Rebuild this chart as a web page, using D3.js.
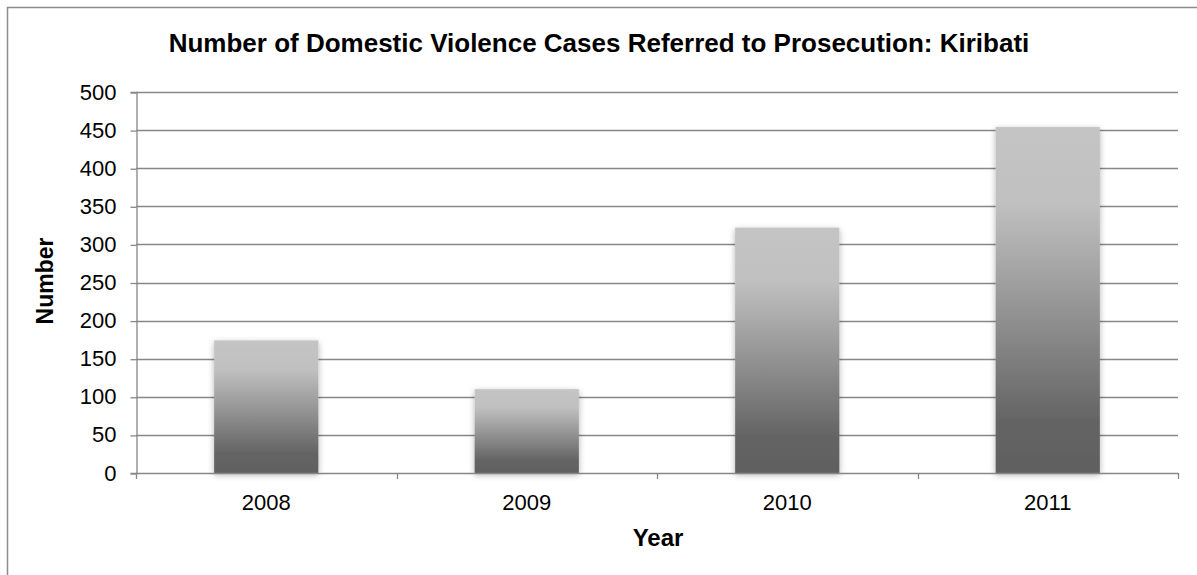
<!DOCTYPE html>
<html>
<head>
<meta charset="utf-8">
<script src="https://cdn.jsdelivr.net/npm/d3@7"></script>
<style>
  html, body { margin: 0; padding: 0; background: #fff; }
  svg { display: block; font-family: "Liberation Sans", Arial, sans-serif; }
</style>
</head>
<body>
<svg id="chart" width="1197" height="575"></svg>
<script>
// Domestic violence cases referred to prosecution, Kiribati
const years = ["2008", "2009", "2010", "2011"];
const cases = [174, 110, 322, 454];
const yTicks = [0, 50, 100, 150, 200, 250, 300, 350, 400, 450, 500];

const titleText = "Number of Domestic Violence Cases Referred to Prosecution: Kiribati";
const xTitle = "Year";
const yTitle = "Number";

const W = 1197, H = 575;
const plot = { left: 136, top: 92, right: 1178, bottom: 473 };

const svg = d3.select("#chart");
const defs = svg.append("defs");

// vertical grey gradient used for each bar
const grad = defs.append("linearGradient")
  .attr("id", "barGrad")
  .attr("x1", 0).attr("y1", 0).attr("x2", 0).attr("y2", 1);
[
  [0, "#c4c4c4"], [0.22, "#c0c0c0"], [0.5, "#989898"],
  [0.85, "#646464"], [1, "#606060"]
].forEach(([o, c]) => grad.append("stop").attr("offset", o).attr("stop-color", c));

const shadow = defs.append("filter")
  .attr("id", "barShadow")
  .attr("x", "-20%").attr("y", "-10%").attr("width", "140%").attr("height", "130%");
shadow.append("feDropShadow")
  .attr("dx", 0).attr("dy", 2).attr("stdDeviation", 3)
  .attr("flood-color", "#000").attr("flood-opacity", 0.3);

// outer chart frame
svg.append("rect")
  .attr("x", 7.5).attr("y", 7.5)
  .attr("width", W + 20).attr("height", H + 20)
  .attr("fill", "none").attr("stroke", "#8c8c8c").attr("stroke-width", 1.5);

const x = d3.scaleBand()
  .domain(years)
  .range([plot.left, plot.right])
  .paddingInner(0.6)
  .paddingOuter(0.3);

const y = d3.scaleLinear()
  .domain([0, 500])
  .range([plot.bottom, plot.top]);

// horizontal gridlines
svg.append("g")
  .selectAll("line")
  .data(yTicks.filter(d => d > 0))
  .join("line")
  .attr("x1", plot.left).attr("x2", plot.right)
  .attr("y1", d => Math.round(y(d)) + 0.5).attr("y2", d => Math.round(y(d)) + 0.5)
  .attr("stroke", "#878787").attr("stroke-width", 1.3);

// bars
svg.append("g")
  .selectAll("rect")
  .data(years.map((yr, i) => ({ yr, v: cases[i] })))
  .join("rect")
  .attr("x", d => x(d.yr))
  .attr("width", x.bandwidth())
  .attr("y", d => y(d.v))
  .attr("height", d => y(0) - y(d.v))
  .attr("fill", "url(#barGrad)")
  .attr("filter", "url(#barShadow)");

// y axis
const yAxis = svg.append("g")
  .attr("transform", `translate(${plot.left + 0.5},0)`)
  .call(d3.axisLeft(y).tickValues(yTicks).tickSize(6).tickPadding(14));
yAxis.select(".domain").attr("stroke", "#878787").attr("stroke-width", 1.3);
yAxis.selectAll(".tick line").attr("stroke", "#878787").attr("stroke-width", 1.3)
  .attr("transform", "translate(0,0.5)");
yAxis.selectAll(".tick text")
  .attr("font-size", 22).attr("fill", "#000")
  .attr("font-family", "Liberation Sans, Arial, sans-serif");

// x axis: baseline, category-boundary ticks and labels
const xg = svg.append("g");
xg.append("line")
  .attr("x1", plot.left).attr("x2", plot.right)
  .attr("y1", plot.bottom + 0.5).attr("y2", plot.bottom + 0.5)
  .attr("stroke", "#878787").attr("stroke-width", 1.3);
const step = x.step();
const bounds = d3.range(years.length + 1).map(i => plot.left + i * step);
xg.selectAll("line.bt")
  .data(bounds)
  .join("line")
  .attr("class", "bt")
  .attr("x1", d => Math.round(d) + 0.5).attr("x2", d => Math.round(d) + 0.5)
  .attr("y1", plot.bottom).attr("y2", plot.bottom + 6)
  .attr("stroke", "#878787").attr("stroke-width", 1.3);
xg.selectAll("text")
  .data(years)
  .join("text")
  .attr("x", d => x(d) + x.bandwidth() / 2)
  .attr("y", 510)
  .attr("text-anchor", "middle")
  .attr("font-size", 22)
  .attr("fill", "#000")
  .text(d => d);

// titles
svg.append("text")
  .attr("x", 599).attr("y", 52)
  .attr("text-anchor", "middle")
  .attr("font-size", 26).attr("font-weight", "bold")
  .text(titleText);

svg.append("text")
  .attr("x", 658).attr("y", 546)
  .attr("text-anchor", "middle")
  .attr("font-size", 24).attr("font-weight", "bold")
  .text(xTitle);

svg.append("text")
  .attr("transform", "translate(53,281) rotate(-90)")
  .attr("text-anchor", "middle")
  .attr("font-size", 23).attr("font-weight", "bold")
  .text(yTitle);
</script>
</body>
</html>
